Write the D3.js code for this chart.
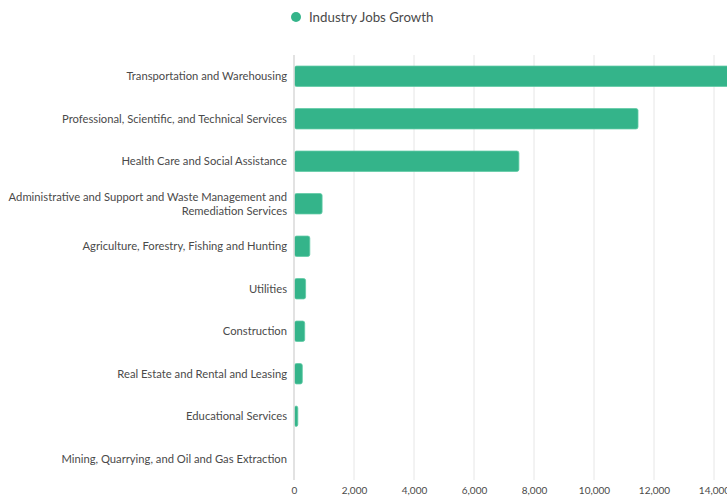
<!DOCTYPE html>
<html><head><meta charset="utf-8">
<script src="https://cdn.jsdelivr.net/npm/d3@7"></script>
<style>body{margin:0;background:#fff;} svg{display:block;}</style>
</head><body>
<svg id="c" width="727" height="497"></svg>
<script>
const categories = [
  "Transportation and Warehousing",
  "Professional, Scientific, and Technical Services",
  "Health Care and Social Assistance",
  "Administrative and Support and Waste Management and Remediation Services",
  "Agriculture, Forestry, Fishing and Hunting",
  "Utilities",
  "Construction",
  "Real Estate and Rental and Leasing",
  "Educational Services",
  "Mining, Quarrying, and Oil and Gas Extraction"
];
const jobsGrowth = [14600, 11450, 7480, 920, 510, 370, 340, 260, 110, 0];
const xTicks = [0, 2000, 4000, 6000, 8000, 10000, 12000, 14000];
const seriesName = "Industry Jobs Growth";

(function () {
const svg = d3.select("#c");
const color = "#34b48a";
const pL = 294, pR = 714, pT = 55, pB = 480;

const x = d3.scaleLinear().domain([0, 14000]).range([pL, pR]);
const y = d3.scaleBand().domain(categories).range([pT, pB]).paddingInner(0.52).paddingOuter(0.26);

// grid
svg.append("g").selectAll("line").data(xTicks.slice(1)).join("line")
  .attr("x1", d => x(d)).attr("x2", d => x(d)).attr("y1", pT).attr("y2", pB)
  .attr("stroke", "#e6e6e6").attr("stroke-width", 1);

// bars
svg.append("g").selectAll("rect").data(categories).join("rect")
  .attr("x", pL + 0.5)
  .attr("y", d => y(d))
  .attr("width", (d, i) => Math.max(0, x(jobsGrowth[i]) - pL))
  .attr("height", y.bandwidth())
  .attr("rx", 2)
  .attr("fill", color)
  .attr("stroke", "#5fcaa5").attr("stroke-width", 0.8);

// y axis line
svg.append("line").attr("x1", pL).attr("x2", pL).attr("y1", pT).attr("y2", pB)
  .attr("stroke", "#d9d9d9").attr("stroke-width", 1.5);

// y labels
const lab = svg.append("g").attr("font-family", "Lato, sans-serif").attr("font-size", 12).attr("fill", "#4a4a4a");
categories.forEach(c => {
  const cy = y(c) + y.bandwidth() / 2;
  const lines = c.startsWith("Administrative") ? ["Administrative and Support and Waste Management and", "Remediation Services"] : [c];
  const t = lab.append("text").attr("text-anchor", "end")
    .attr("transform", `translate(287,0) scale(0.937,1)`);
  lines.forEach((l, k) => {
    t.append("tspan").attr("x", 0).attr("y", cy + 4 + (k - (lines.length - 1) / 2) * 14).text(l);
  });
});

// x axis labels
const xa = d3.axisBottom(x).tickValues(xTicks).tickFormat(d3.format(",")).tickSize(0);
const gx = svg.append("g").attr("transform", `translate(0,${pB + 4})`).call(xa);
gx.select(".domain").remove();
gx.selectAll("text").attr("font-family", "Lato, sans-serif").attr("font-size", 10).attr("fill", "#4a4a4a");

// legend
svg.append("circle").attr("cx", 296).attr("cy", 17).attr("r", 5).attr("fill", color);
svg.append("text").attr("transform", "translate(309,22) scale(0.95,1)").attr("font-family", "Lato, sans-serif")
  .attr("font-size", 14).attr("fill", "#4a4a4a").text(seriesName);
})();
</script>
</body></html>
